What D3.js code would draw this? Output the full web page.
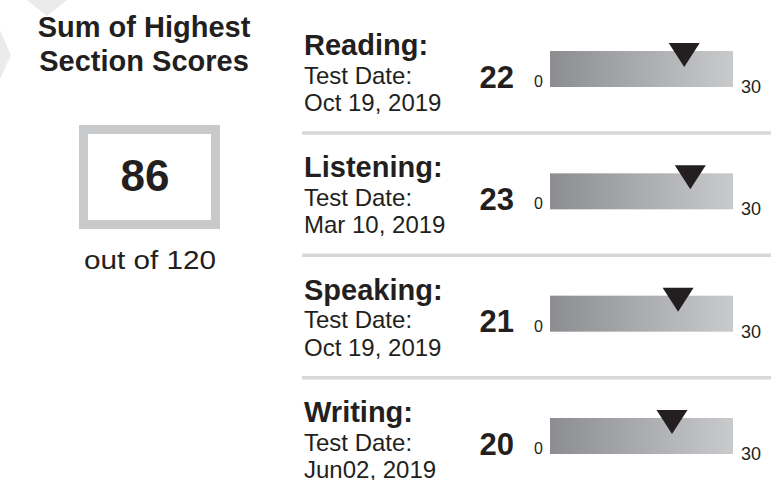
<!DOCTYPE html>
<html>
<head>
<meta charset="utf-8">
<script src="https://cdn.jsdelivr.net/npm/d3@7"></script>
<style>
  html, body { margin: 0; padding: 0; background: #ffffff; }
  svg { display: block; font-family: "Liberation Sans", Arial, Helvetica, sans-serif; }
</style>
</head>
<body>
<div id="chart"></div>
<script>
// ---- Data ----
const titleLines = ["Sum of Highest", "Section Scores"];
const totalScore = 86;
const totalMax = 120;
const sections = ["Reading:", "Listening:", "Speaking:", "Writing:"];
const testDates = ["Oct 19, 2019", "Mar 10, 2019", "Oct 19, 2019", "Jun02, 2019"];
const sectionScores = [22, 23, 21, 20];
const sectionMin = 0;
const sectionMax = 30;

// ---- Layout ----
const W = 779, H = 480;
const ink = "#231f20";
const svg = d3.select("#chart").append("svg").attr("width", W).attr("height", H);

const defs = svg.append("defs");
const grad = defs.append("linearGradient").attr("id", "barGrad")
  .attr("x1", "0%").attr("x2", "100%").attr("y1", "0%").attr("y2", "0%");
grad.append("stop").attr("offset", "0%").attr("stop-color", "#8c8d90");
grad.append("stop").attr("offset", "100%").attr("stop-color", "#c9cacc");

// faint watermark shapes in top-left corner
svg.append("path").attr("d", "M27,0 L67,0 L47,16 Z").attr("fill", "#ebebeb");
svg.append("path").attr("d", "M0,30 L11,55 L0,79 Z").attr("fill", "#ebebeb");

// Title
svg.append("g").selectAll("text").data(titleLines).join("text")
  .attr("x", 144).attr("y", (d, i) => 37 + i * 34)
  .attr("text-anchor", "middle")
  .attr("font-size", 29).attr("font-weight", "bold").attr("fill", ink)
  .text(d => d);

// Total box
svg.append("rect").attr("x", 83.5).attr("y", 129.5).attr("width", 132).attr("height", 95)
  .attr("fill", "#fff").attr("stroke", "#c8c9cb").attr("stroke-width", 9);
svg.append("text").attr("x", 145).attr("y", 191).attr("text-anchor", "middle")
  .attr("font-size", 44).attr("font-weight", "bold").attr("fill", ink)
  .text(totalScore);
svg.append("text").attr("x", 84).attr("y", 269)
  .attr("font-size", 26).attr("fill", ink)
  .attr("textLength", 132).attr("lengthAdjust", "spacingAndGlyphs")
  .text("out of " + totalMax);

// Rows
const rowY = d3.scaleLinear().domain([0, sections.length - 1]).range([0, 367]);
const x = d3.scaleLinear().domain([sectionMin, sectionMax]).range([550, 733]);

const rows = svg.append("g").selectAll("g").data(sections).join("g")
  .attr("transform", (d, i) => `translate(0,${rowY(i)})`);

rows.append("text").attr("x", 304).attr("y", 55)
  .attr("font-size", 29).attr("font-weight", "bold").attr("fill", ink)
  .text(d => d);
rows.append("text").attr("x", 304).attr("y", 83.5)
  .attr("font-size", 24).attr("fill", ink)
  .text("Test Date:");
rows.append("text").attr("x", 304).attr("y", 111)
  .attr("font-size", 24).attr("fill", ink)
  .text((d, i) => testDates[i]);
rows.append("text").attr("x", 514).attr("y", 87.5).attr("text-anchor", "end")
  .attr("font-size", 31).attr("font-weight", "bold").attr("fill", ink)
  .text((d, i) => sectionScores[i]);
rows.append("text").attr("x", x(sectionMin) - 7).attr("y", 87).attr("text-anchor", "end")
  .attr("font-size", 16).attr("fill", ink)
  .text(sectionMin);
rows.append("text").attr("x", x(sectionMax) + 8).attr("y", 93)
  .attr("font-size", 18).attr("fill", ink)
  .text(sectionMax);

rows.append("rect").attr("x", x(sectionMin)).attr("y", 51)
  .attr("width", x(sectionMax) - x(sectionMin)).attr("height", 36)
  .attr("fill", "url(#barGrad)");

rows.append("path")
  .attr("d", (d, i) => {
    const cx = x(sectionScores[i]);
    return `M${cx - 15.5},43 L${cx + 15.5},43 L${cx},67 Z`;
  })
  .attr("fill", ink);

rows.filter((d, i) => i < sections.length - 1)
  .append("line").attr("x1", 302).attr("x2", 771).attr("y1", 133).attr("y2", 133)
  .attr("stroke", "#d7d8da").attr("stroke-width", 3.5);
</script>
</body>
</html>
